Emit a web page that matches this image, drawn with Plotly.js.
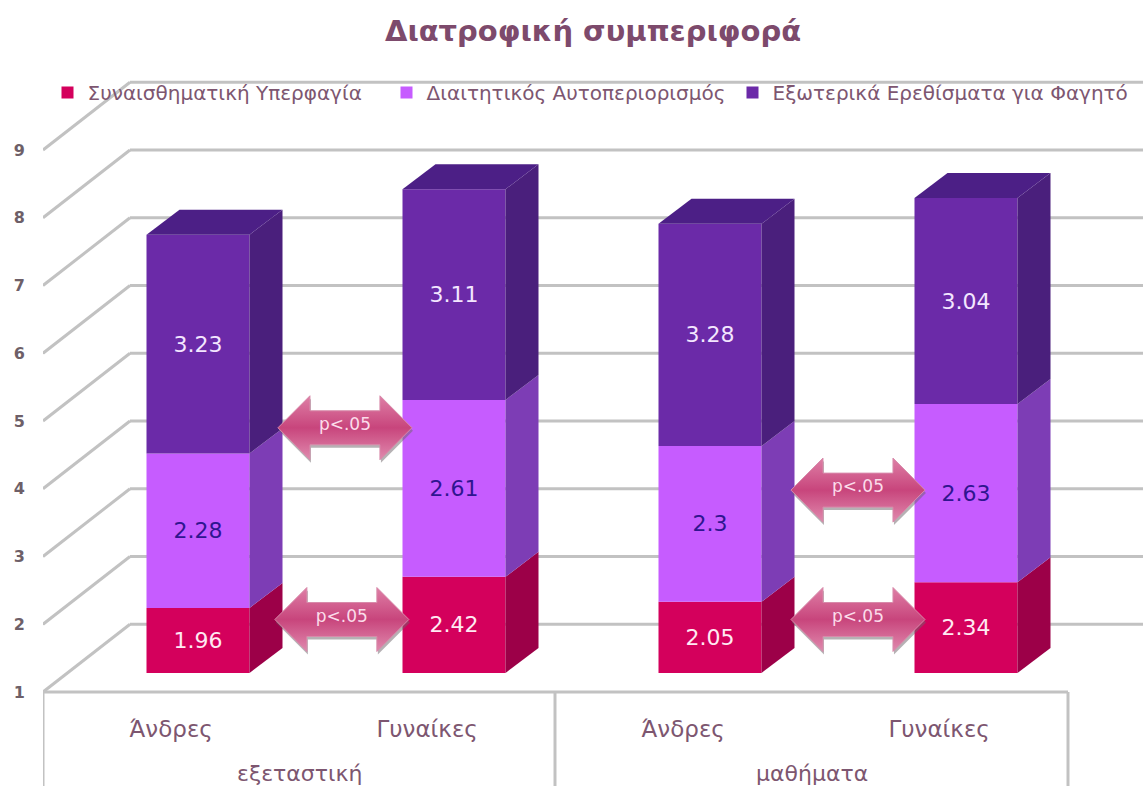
<!DOCTYPE html>
<html><head><meta charset="utf-8">
<script src="https://cdn.plot.ly/plotly-3.0.1.min.js"></script>
<style>html,body{margin:0;padding:0;background:#fff;overflow:hidden}#c{width:1143px;height:786px}</style>
</head><body><div id="c"></div>
<script>
// ---- data ----
const groups = ['εξεταστική', 'μαθήματα'];
const genders = ['Άνδρες', 'Γυναίκες', 'Άνδρες', 'Γυναίκες'];
const seriesNames = ['Συναισθηματική Υπερφαγία', 'Διαιτητικός Αυτοπεριορισμός', 'Εξωτερικά Ερεθίσματα για Φαγητό'];
const emotional = [1.96, 2.42, 2.05, 2.34];
const restraint = [2.28, 2.61, 2.3, 2.63];
const external = [3.23, 3.11, 3.28, 3.04];
const yTicks = [1, 2, 3, 4, 5, 6, 7, 8, 9];
const pLabel = 'p<.05';
const arrowX = [0.574, 0.562, 2.578, 2.578];
const arrowY = [4.90, 2.07, 3.98, 2.07];

// ---- geometry & style ----
const W = 1143, H = 786, pxX = 256, pxY = 67.75, leftPx = 43;
const x0 = (leftPx - 198) / pxX, x1 = (W - 198) / pxX;
const y0 = 1 - (H - 692) / pxY, y1 = 1 + 692 / pxY;
const barW = 103 / pxX, depthX = 33 / pxX, depthY = 25 / pxY, lift = 19 / pxY;
const wallX = 87 / pxX, wallY = 1;
const front = ['#d4005c', '#c65cff', '#6b2aa8'];
const side = ['#9c0048', '#7d3db5', '#4a1f7c'];
const topFace = '#4c1f86';
const textCol = ['#ffe9f2', '#2f1590', '#f3e6ff'];
const greyLine = '#c2c2c2', textMauve = '#7d5670';
const xs = [0, 1, 2, 3];
const series = [emotional, restraint, external];
const legendIds = ['legend', 'legend2', 'legend3'];
const legendTextPx = [88, 427, 773];

const traces = [];
const bases = xs.map(() => 1 + lift);
series.forEach((vals, s) => {
  const heights = vals.map(v => s === 0 ? v - 1 : v);
  const b = bases.slice();
  traces.push({type:'bar', name:seriesNames[s], legend:legendIds[s], showlegend:true, x:xs, y:heights, base:b, width:barW,
    marker:{color:front[s], line:{width:0}}, text:vals.map(String), textposition:'inside',
    insidetextanchor:'middle', textangle:0, constraintext:'none',
    textfont:{family:'DejaVu Sans', size:22, color:textCol[s]}, hoverinfo:'skip'});
  // right side faces, derived from the same values
  xs.forEach((x, i) => {
    const xr = x + barW / 2, yb = b[i], yt = b[i] + heights[i];
    traces.push({type:'scatter', mode:'lines', x:[xr, xr + depthX, xr + depthX, xr, xr],
      y:[yb, yb + depthY, yt + depthY, yt, yb], fill:'toself', fillcolor:side[s],
      line:{width:0, color:side[s]}, showlegend:false, hoverinfo:'skip'});
    if (s === series.length - 1) {
      const xl = x - barW / 2;
      traces.push({type:'scatter', mode:'lines', x:[xl, xl + depthX, xr + depthX, xr, xl],
        y:[yt, yt + depthY, yt + depthY, yt, yt], fill:'toself', fillcolor:topFace,
        line:{width:0, color:topFace}, showlegend:false, hoverinfo:'skip'});
    }
  });
  xs.forEach((x, i) => { bases[i] += heights[i]; });
});

// double arrows with p<.05 labels
const aLen = 67 / pxX, aHead = 32 / pxX, aH = 32 / pxY, aS = 17 / pxY;
function arrowPath(cx, cy) {
  return {
    x:[cx-aLen, cx-aLen+aHead, cx-aLen+aHead, cx+aLen-aHead, cx+aLen-aHead, cx+aLen, cx+aLen-aHead, cx+aLen-aHead, cx-aLen+aHead, cx-aLen+aHead, cx-aLen],
    y:[cy, cy+aH, cy+aS, cy+aS, cy+aH, cy, cy-aH, cy-aS, cy-aS, cy-aH, cy]
  };
}
arrowX.forEach((cx, i) => {
  const cy = arrowY[i], sh = arrowPath(cx + 1 / pxX, cy - 3 / pxY), p = arrowPath(cx, cy);
  traces.push({type:'scatter', mode:'lines', x:sh.x, y:sh.y, fill:'toself',
    fillcolor:'rgba(110,100,105,0.5)', line:{width:0, color:'#888'}, showlegend:false, hoverinfo:'skip'});
  traces.push({type:'scatter', mode:'lines', x:p.x, y:p.y, fill:'toself',
    fillgradient:{type:'vertical', colorscale:[[0,'#e08aae'],[0.5,'#c8457c'],[1,'#de7fa6']]},
    line:{width:1, color:'#d88aaa'}, showlegend:false, hoverinfo:'skip'});
  traces.push({type:'scatter', mode:'text', x:[cx], y:[cy + 2 / pxY], text:[pLabel], textposition:'middle center',
    textfont:{family:'DejaVu Sans', size:17, color:'#fbdcea'}, showlegend:false, hoverinfo:'skip'});
});

// walls, grid and category table
const shapes = [];
const ln = (xa, ya, xb, yb) => ({type:'line', layer:'below', xref:'x', yref:'y', x0:xa, y0:ya, x1:xb, y1:yb,
  line:{color:greyLine, width:3}});
yTicks.forEach(v => {
  shapes.push(ln(x0, v, x0 + wallX, v + wallY));
  shapes.push(ln(x0 + wallX, v + wallY, x1 + 1, v + wallY));
});
const cellEdges = [x0, (555 - 198) / pxX, (1068 - 198) / pxX];
shapes.push(ln(cellEdges[0], 1, cellEdges[2], 1));
cellEdges.forEach(e => shapes.push(ln(e, 1, e, y0)));

const annotations = groups.map((g, i) => ({
  x:(cellEdges[i] + cellEdges[i + 1]) / 2, y:1 - 81 / pxY, xref:'x', yref:'y', text:g, showarrow:false,
  font:{family:'DejaVu Sans', size:22, color:textMauve}
}));

const layout = {
  width:W, height:H, margin:{l:leftPx, r:0, t:0, b:0}, paper_bgcolor:'#fff', plot_bgcolor:'rgba(0,0,0,0)',
  showlegend:true, barmode:'overlay',
  title:{text:'Διατροφική συμπεριφορά', x:593 / W, xanchor:'center', y:1 - 31 / H, yanchor:'middle',
    font:{family:'DejaVu Sans', size:29, color:'#7d4a6c', weight:'bold'}},
  xaxis:{range:[x0, x1], tickmode:'array', tickvals:xs.map(x => x - 0.105), ticktext:genders, anchor:'free',
    position:1 - 713 / H, showgrid:false, zeroline:false, showline:false, ticks:'',
    tickfont:{family:'DejaVu Sans', size:23, color:textMauve}},
  yaxis:{range:[y0, y1], tickmode:'array', tickvals:yTicks, ticktext:yTicks.map(String), showgrid:false, zeroline:false,
    showline:false, ticks:'outside', ticklen:14, tickcolor:'rgba(0,0,0,0)',
    tickfont:{family:'DejaVu Sans', size:16, color:'#6e5f68', weight:'bold'}},
  shapes, annotations
};
legendIds.forEach((id, s) => {
  layout[id] = {orientation:'h', x:(legendTextPx[s] - 40.5 - leftPx) / (W - leftPx), xanchor:'left',
    y:1 - 73 / H, yanchor:'top', bgcolor:'rgba(0,0,0,0)',
    font:{family:'DejaVu Sans', size:20, color:textMauve}};
});
Plotly.newPlot('c', traces, layout, {displayModeBar:false, staticPlot:true});
</script></body></html>
